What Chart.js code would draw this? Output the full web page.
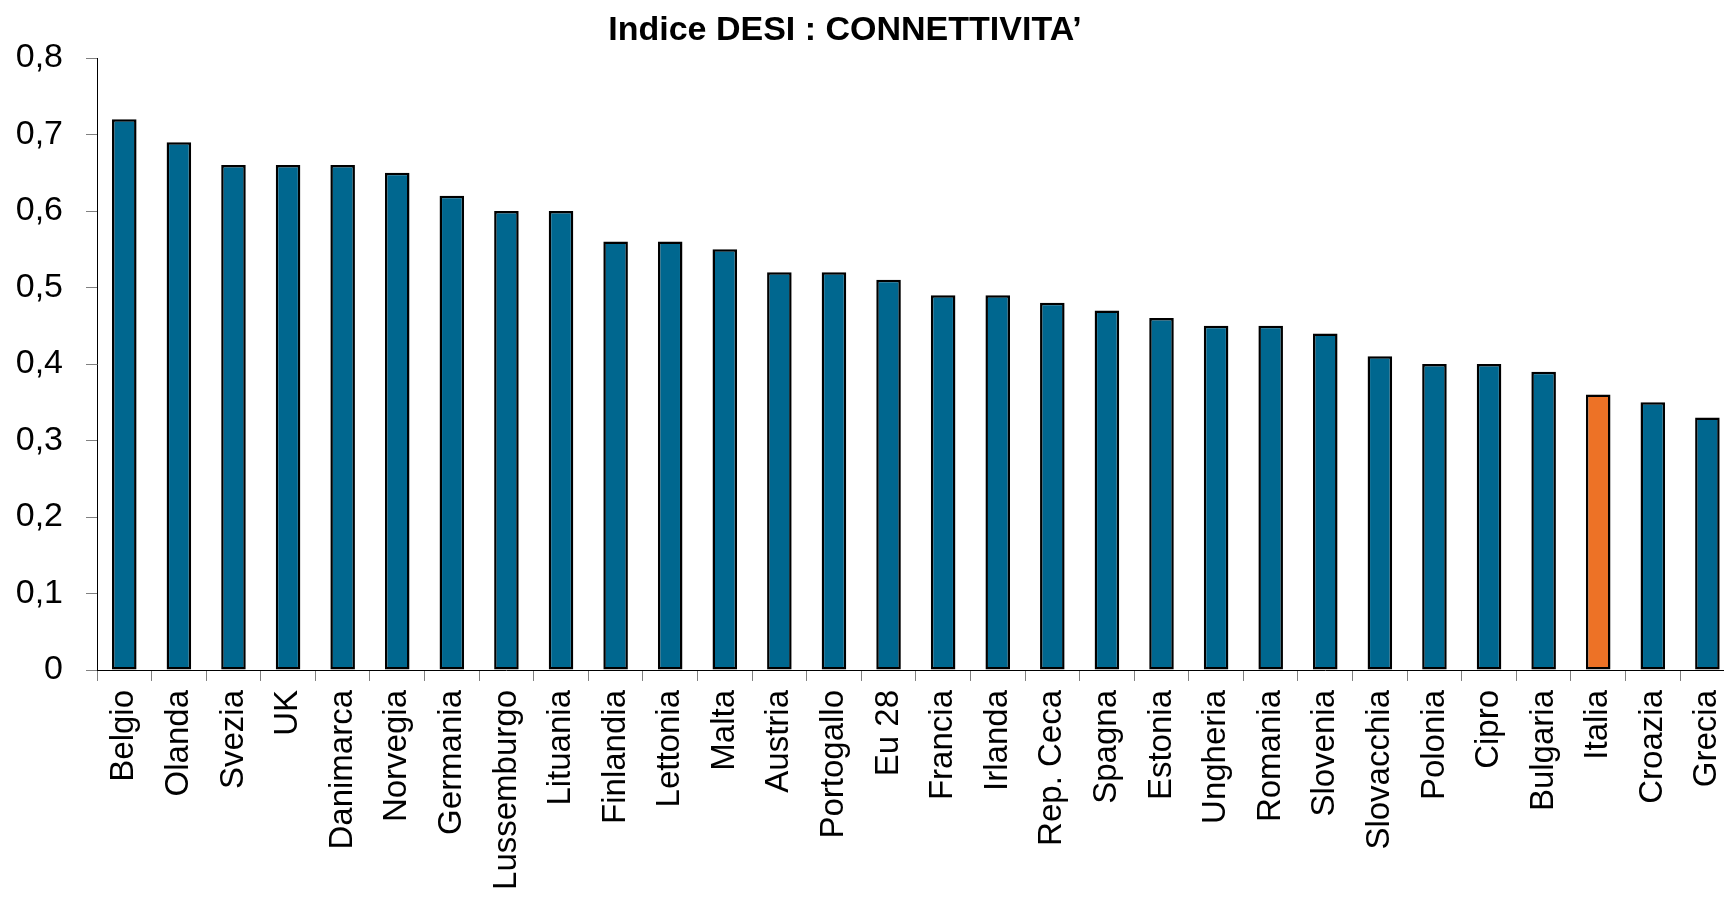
<!DOCTYPE html>
<html>
<head>
<meta charset="utf-8">
<script src="https://cdn.jsdelivr.net/npm/chart.js@4"></script>
<style>
  html, body { margin: 0; padding: 0; background: #fff; overflow: hidden; }
  #wrap { position: relative; width: 1756px; height: 917px; }
  #titolo {
    position: absolute; left: 604px; top: 9px; width: 482px; text-align: center;
    font: bold 34px "Liberation Sans", Arial, sans-serif; color: #000; white-space: nowrap;
  }
</style>
</head>
<body>
<div id="wrap">
  <canvas id="grafico"></canvas>
  <div id="titolo">Indice DESI : CONNETTIVITA’</div>
</div>
<script>
const paesi = ["Belgio", "Olanda", "Svezia", "UK", "Danimarca", "Norvegia", "Germania", "Lussemburgo",
  "Lituania", "Finlandia", "Lettonia", "Malta", "Austria", "Portogallo", "Eu 28", "Francia", "Irlanda",
  "Rep. Ceca", "Spagna", "Estonia", "Ungheria", "Romania", "Slovenia", "Slovacchia", "Polonia", "Cipro",
  "Bulgaria", "Italia", "Croazia", "Grecia"];
const valori = [0.72, 0.69, 0.66, 0.66, 0.66, 0.65, 0.62, 0.60, 0.60, 0.56, 0.56, 0.55, 0.52, 0.52, 0.51,
  0.49, 0.49, 0.48, 0.47, 0.46, 0.45, 0.45, 0.44, 0.41, 0.40, 0.40, 0.39, 0.36, 0.35, 0.33];
const evidenziato = "Italia";
const tickY = [0, 0.1, 0.2, 0.3, 0.4, 0.5, 0.6, 0.7, 0.8];

const font = "'Liberation Sans', Arial, sans-serif";

new Chart(document.getElementById("grafico"), {
    type: "bar",
    data: {
        labels: paesi,
        datasets: [{
            data: valori,
            backgroundColor: paesi.map(p => p === evidenziato ? "#ED7226" : "#00678F"),
            borderColor: "#000",
            borderWidth: 2.5,
            borderSkipped: false,
            categoryPercentage: 1,
            barPercentage: 0.45
        }]
    },
    options: {
        responsive: true,
        maintainAspectRatio: false,
        animation: false,
        layout: { padding: { top: 58, left: 0, right: 0, bottom: 0 } },
        plugins: {
            legend: { display: false },
            tooltip: { enabled: false }
        },
        scales: {
            x: {
                afterFit: s => { s.height = 247; },
                grid: {
                    offset: true,
                    drawOnChartArea: false,
                    drawTicks: true,
                    tickLength: 11,
                    color: "#808080"
                },
                border: { color: "#000", width: 1 },
                ticks: {
                    color: "#000",
                    font: { family: font, size: 33 },
                    maxRotation: 90,
                    minRotation: 90,
                    autoSkip: false,
                    padding: 9
                }
            },
            y: {
                min: 0,
                max: 0.8,
                afterFit: s => { s.width = 97; },
                afterBuildTicks: s => { s.ticks = tickY.map(v => ({ value: v })); },
                grid: {
                    drawOnChartArea: false,
                    drawTicks: true,
                    tickLength: 11,
                    color: "#808080"
                },
                border: { color: "#000", width: 1 },
                ticks: {
                    color: "#000",
                    font: { family: font, size: 34 },
                    padding: 23,
                    callback: v => String(v).replace(".", ",")
                }
            }
        }
    }
});
</script>
</body>
</html>
